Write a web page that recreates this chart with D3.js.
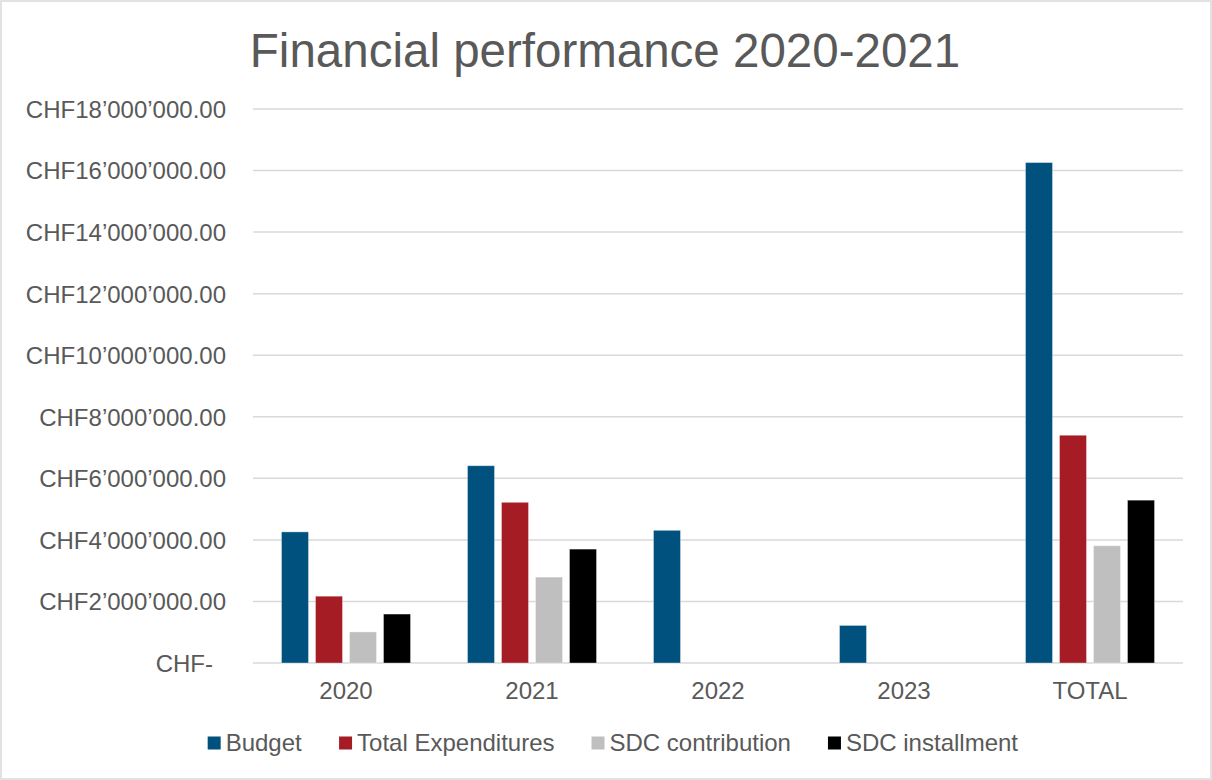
<!DOCTYPE html>
<html><head><meta charset="utf-8">
<script src="https://cdn.jsdelivr.net/npm/d3@7"></script>
<style>
html,body{margin:0;padding:0;background:#fff;}
svg{display:block;font-family:"Liberation Sans",Arial,sans-serif;}
</style></head>
<body>
<svg id="chart" width="1212" height="780"></svg>
<script>
const categories = ["2020", "2021", "2022", "2023", "TOTAL"];
const seriesNames = ["Budget", "Total Expenditures", "SDC contribution", "SDC installment"];
const budget = [4260000, 6410000, 4310000, 1220000, 16260000];
const totalExpenditures = [2170000, 5220000, null, null, 7400000];
const sdcContribution = [1010000, 2790000, null, null, 3810000];
const sdcInstallment = [1590000, 3700000, null, null, 5290000];
const yTicks = [0, 2000000, 4000000, 6000000, 8000000, 10000000, 12000000, 14000000, 16000000, 18000000];
const colors = ["#01517F", "#A51C24", "#BFBFBF", "#000000"];
const titleText = "Financial performance 2020-2021";

const seriesValues = [budget, totalExpenditures, sdcContribution, sdcInstallment];
const W = 1212, H = 780;
const svg = d3.select("#chart");
const textColor = "#595959";

svg.append("rect").attr("x", 1).attr("y", 1).attr("width", W - 2).attr("height", H - 2)
  .attr("fill", "#fff").attr("stroke", "#D9D9D9").attr("stroke-width", 1.5);

svg.append("text").attr("x", 605).attr("y", 67).attr("text-anchor", "middle")
  .attr("font-size", 47.5).attr("fill", textColor).text(titleText);

const plot = {left: 253, right: 1183, top: 109, bottom: 663};
const x0 = d3.scaleBand().domain(categories).range([plot.left, plot.right]).paddingInner(0).paddingOuter(0);
const x1 = d3.scaleBand().domain(seriesNames).range([0, x0.bandwidth()]).paddingInner(0.206).paddingOuter(0.838);
const y = d3.scaleLinear().domain([0, 18000000]).range([plot.bottom, plot.top]);

// gridlines
svg.append("g").selectAll("line").data(yTicks).join("line")
  .attr("x1", plot.left).attr("x2", plot.right)
  .attr("y1", d => y(d)).attr("y2", d => y(d))
  .attr("stroke", "#D9D9D9").attr("stroke-width", 1.5);

// y axis labels
const fmt = v => {
  if (v === 0) return "CHF-";
  const s = d3.format(",.2f")(v).replace(/,/g, "\u2019");
  return "CHF" + s;
};
const yAxis = d3.axisLeft(y).tickValues(yTicks).tickFormat(fmt).tickSize(0).tickPadding(0);
const yg = svg.append("g").attr("transform", `translate(226,0)`).call(yAxis);
yg.select(".domain").remove();
yg.selectAll("text").attr("font-size", 24).attr("fill", textColor)
  .attr("font-family", "Liberation Sans, Arial, sans-serif")
  .attr("dy", "0.35em")
  .attr("dx", d => d === 0 ? -13 : 0);

// x axis labels
const xAxis = d3.axisBottom(x0).tickSize(0).tickPadding(0);
const xg = svg.append("g").attr("transform", `translate(0,${plot.bottom})`).call(xAxis);
xg.select(".domain").remove();
xg.selectAll("text").attr("font-size", 24).attr("fill", textColor)
  .attr("font-family", "Liberation Sans, Arial, sans-serif")
  .attr("y", 36).attr("dy", 0);

// bars
const barData = [];
categories.forEach((c, ci) => {
  seriesNames.forEach((s, si) => {
    const v = seriesValues[si][ci];
    if (v != null) barData.push({c, s, si, v});
  });
});
svg.append("g").selectAll("rect").data(barData).join("rect")
  .attr("x", d => x0(d.c) + x1(d.s))
  .attr("width", x1.bandwidth())
  .attr("y", d => y(d.v))
  .attr("height", d => y(0) - y(d.v))
  .attr("fill", d => colors[d.si])
  .attr("stroke", "rgba(255,255,255,0.35)").attr("stroke-width", 1);

// legend
const lg = svg.append("g");
const items = lg.selectAll("g").data(seriesNames).join("g");
items.append("rect").attr("width", 13).attr("height", 13).attr("y", -6.5)
  .attr("fill", (d, i) => colors[i]);
items.append("text").attr("x", 18).attr("dy", "0.35em").attr("font-size", 24)
  .attr("fill", textColor).text(d => d);
let widths = [];
items.each(function() { widths.push(this.getBBox().width); });
const gap = 37;
const total = d3.sum(widths) + gap * (widths.length - 1);
let cx = 613 - total / 2;
items.attr("transform", (d, i) => {
  const t = `translate(${cx},743)`;
  cx += widths[i] + gap;
  return t;
});
</script>
</body></html>
